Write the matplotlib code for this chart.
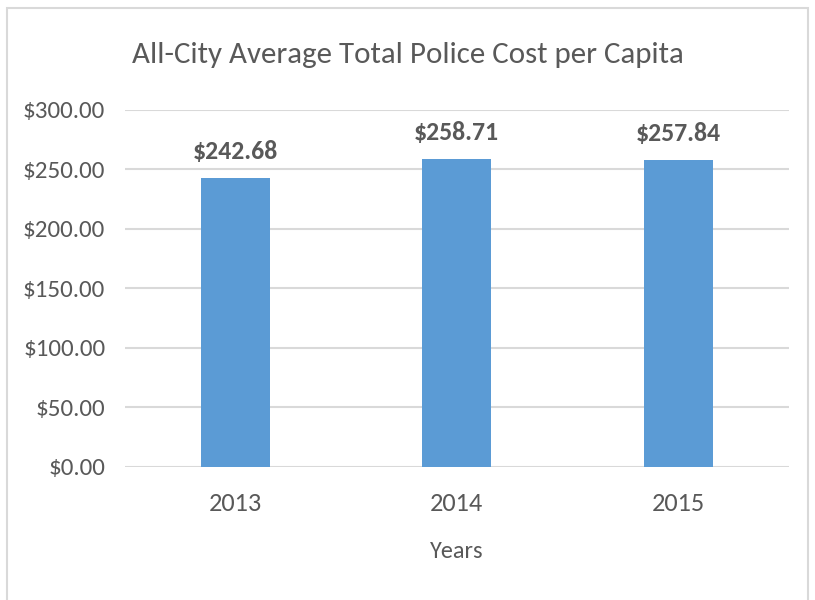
import matplotlib.pyplot as plt
from matplotlib.patches import Rectangle
from matplotlib.ticker import FuncFormatter

# Datos
anios = ['2013', '2014', '2015']
costo_per_capita = [242.68, 258.71, 257.84]
ticks_y = [0, 50, 100, 150, 200, 250, 300]

plt.rcParams['font.family'] = ['Carlito', 'DejaVu Sans']
gris_texto = '#595959'
azul = '#5b9bd5'

fig = plt.figure(figsize=(8.15, 6), dpi=100)
ax = fig.add_axes([0.153, 0.222, 0.815, 0.595])

# Marco exterior gris claro
fig.patches.append(Rectangle((0.009, -0.05), 0.982, 1.037, transform=fig.transFigure,
                             fill=False, edgecolor='#d9d9d9', linewidth=1.5))

x = range(len(anios))
barras = ax.bar(x, costo_per_capita, width=0.31, color=azul, zorder=3)

for barra, valor in zip(barras, costo_per_capita):
    ax.annotate(f'${valor:,.2f}',
                xy=(barra.get_x() + barra.get_width() / 2, valor),
                xytext=(0, 10.5), textcoords='offset points',
                ha='center', va='bottom', fontsize=18.5, weight='bold', color=gris_texto)

ax.set_xlim(-0.5, 2.5)
ax.set_ylim(0, 300)
ax.set_yticks(ticks_y)
ax.yaxis.set_major_formatter(FuncFormatter(lambda v, p: f'${v:,.2f}'))
ax.set_xticks(list(x))
ax.set_xticklabels(anios)

ax.grid(axis='y', color='#d9d9d9', linewidth=1.5, zorder=0)
ax.set_axisbelow(True)
for lado in ['top', 'right', 'left', 'bottom']:
    ax.spines[lado].set_visible(False)
ax.tick_params(axis='both', length=0, labelcolor=gris_texto)
ax.tick_params(axis='y', pad=14, labelsize=18)
ax.tick_params(axis='x', pad=18, labelsize=19)

ax.set_xlabel('Years', fontsize=17.5, color=gris_texto, labelpad=19)
fig.text(0.5, 0.908, 'All-City Average Total Police Cost per Capita',
         ha='center', va='center', fontsize=22.3, color=gris_texto)

fig.savefig('out.png', dpi=100)
